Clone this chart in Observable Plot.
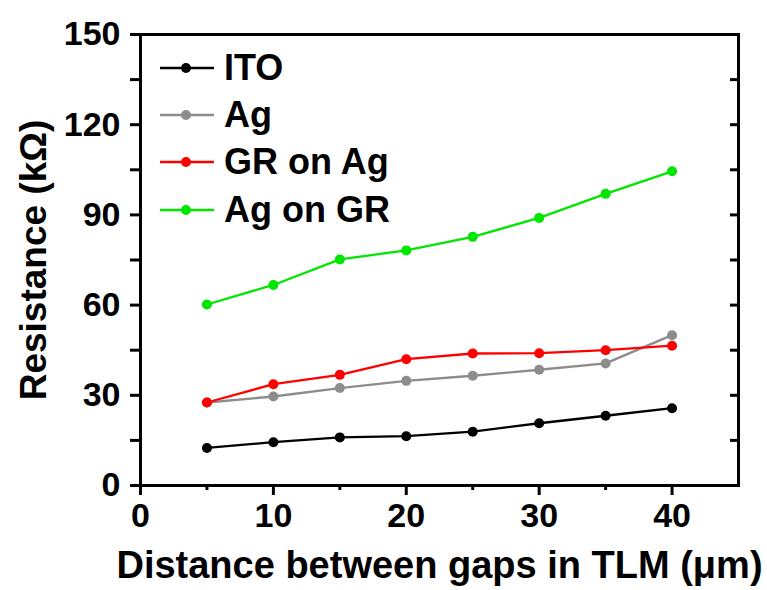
<!DOCTYPE html>
<html>
<head>
<meta charset="utf-8">
<script src="https://cdn.jsdelivr.net/npm/d3@7"></script>
<script src="https://cdn.jsdelivr.net/npm/@observablehq/plot@0.6"></script>
<style>
  html, body { margin: 0; padding: 0; background: #fff; }
  #wrap { position: relative; width: 767px; height: 590px; font-family: "Liberation Sans", Arial, sans-serif; }
  #legend { position: absolute; left: 160px; top: 44px; }
  .row { display: flex; align-items: center; height: 47.3px; }
  .row svg { display: block; }
  .row span { font-size: 36px; font-weight: bold; color: #000; margin-left: 10px; line-height: 1; }
</style>
</head>
<body>
<div id="wrap"></div>
<script>
// ---- data ----
const distances = [5, 10, 15, 20, 25, 30, 35, 40];
const seriesNames = ["ITO", "Ag", "GR on Ag", "Ag on GR"];
const seriesColors = ["#000000", "#8c8c8c", "#ff0000", "#00e600"];
const ito    = [12.5, 14.4, 16.0, 16.4, 17.9, 20.7, 23.2, 25.7];
const ag     = [27.6, 29.6, 32.4, 34.8, 36.5, 38.5, 40.6, 50.0];
const grOnAg = [27.6, 33.7, 36.8, 42.0, 43.9, 44.0, 45.0, 46.5];
const agOnGr = [60.2, 66.7, 75.2, 78.2, 82.7, 89.0, 97.0, 104.5];
const yTicks = [0, 30, 60, 90, 120, 150];
const xTicks = [0, 10, 20, 30, 40];
const xLabel = "Distance between gaps in TLM (\u03bcm)";
const yLabel = "Resistance (k\u03a9)";

const values = [ito, ag, grOnAg, agOnGr];
const data = [];
seriesNames.forEach((s, k) => distances.forEach((d, i) => data.push({series: s, x: d, y: values[k][i]})));

const font = "'Liberation Sans', Arial, sans-serif";
const chart = Plot.plot({
  width: 767,
  height: 590,
  marginLeft: 140,
  marginRight: 29,
  marginTop: 34,
  marginBottom: 105,
  style: {fontFamily: font, fontWeight: "bold", color: "#000", background: "#fff", overflow: "visible"},
  x: {domain: [0, 45]},
  y: {domain: [0, 150]},
  color: {domain: seriesNames, range: seriesColors},
  marks: [
    Plot.axisY({ticks: d3.range(0, 151, 15), tickSize: 10, tickPadding: 10, strokeWidth: 3, fontSize: 34, fontWeight: "bold",
      tickFormat: d => (yTicks.includes(d) ? String(d) : ""), label: null}),
    Plot.axisY({anchor: "right", ticks: d3.range(15, 150, 15), tickSize: -9, strokeWidth: 3, tickFormat: () => "", label: null}),
    Plot.axisX({ticks: xTicks, tickSize: 10, tickPadding: 7, strokeWidth: 3, fontSize: 34, fontWeight: "bold", label: null}),
    Plot.axisX({ticks: [5, 15, 25, 35], tickSize: 5, strokeWidth: 3, tickFormat: () => "", label: null}),
    Plot.frame({stroke: "#000", strokeWidth: 3}),
    Plot.line(data, {x: "x", y: "y", z: "series", stroke: "series", strokeWidth: 2.3}),
    Plot.dot(data, {x: "x", y: "y", fill: "series", r: 5}),
    Plot.text([xLabel], {frameAnchor: "bottom", dy: 80, textAnchor: "middle", lineAnchor: "middle", fontSize: 38, fontWeight: "bold", fill: "#000"}),
    Plot.text([yLabel], {frameAnchor: "left", dx: -95, rotate: -90, textAnchor: "middle", lineAnchor: "bottom", fontSize: 37, fontWeight: "bold", fill: "#000"})
  ]
});
const wrap = document.getElementById("wrap");
wrap.appendChild(chart);

// legend overlay
const legend = document.createElement("div");
legend.id = "legend";
seriesNames.forEach((s, k) => {
  const row = document.createElement("div");
  row.className = "row";
  row.innerHTML = `<svg width="54" height="14"><line x1="0" y1="7" x2="54" y2="7" stroke="${seriesColors[k]}" stroke-width="2.5"/><circle cx="26" cy="7" r="5" fill="${seriesColors[k]}"/></svg><span>${s}</span>`;
  legend.appendChild(row);
});
wrap.appendChild(legend);
</script>
</body>
</html>
